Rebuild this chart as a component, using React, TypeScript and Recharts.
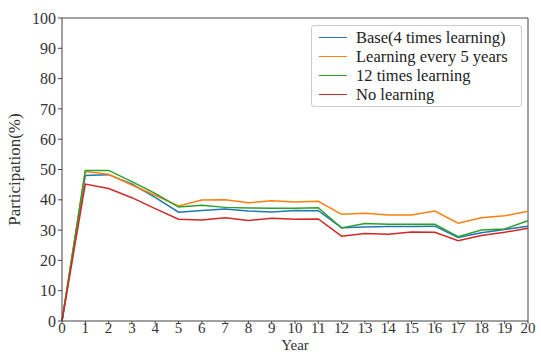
import React from "react";
import {
  Line,
  LineChart,
  XAxis,
  YAxis,
  ReferenceLine,
} from "recharts";

const years = [0, 1, 2, 3, 4, 5, 6, 7, 8, 9, 10, 11, 12, 13, 14, 15, 16, 17, 18, 19, 20];
const base = [0, 48.0, 48.3, 45.2, 40.8, 35.9, 36.5, 37.0, 36.3, 36.0, 36.5, 36.4, 30.8, 31.0, 31.2, 31.2, 31.3, 27.6, 29.1, 30.2, 31.3];
const every5 = [0, 49.3, 48.4, 44.9, 41.5, 38.0, 39.9, 40.0, 39.0, 39.7, 39.3, 39.5, 35.2, 35.6, 35.0, 35.0, 36.3, 32.3, 34.1, 34.7, 36.2];
const twelve = [0, 49.7, 49.7, 46.0, 42.1, 37.6, 38.2, 37.5, 37.3, 37.2, 37.2, 37.4, 30.7, 32.2, 31.9, 31.9, 31.9, 27.8, 30.0, 30.4, 33.1];
const noLearning = [0, 45.2, 43.7, 40.7, 37.1, 33.6, 33.3, 34.1, 33.2, 33.9, 33.6, 33.7, 28.0, 28.9, 28.6, 29.4, 29.3, 26.5, 28.2, 29.3, 30.6];
const yTicks = [0, 10, 20, 30, 40, 50, 60, 70, 80, 90, 100];

const series = [
  { key: "base", name: "Base(4 times learning)", color: "#1f77b4" },
  { key: "every5", name: "Learning every 5 years", color: "#ff7f0e" },
  { key: "twelve", name: "12 times learning", color: "#2ca02c" },
  { key: "none", name: "No learning", color: "#d62728" },
];

const data = years.map((y, i) => ({
  year: y,
  base: base[i],
  every5: every5[i],
  twelve: twelve[i],
  none: noLearning[i],
}));

const font = "'Liberation Serif', 'DejaVu Serif', serif";
const axisColor = "#444";

function LegendBox() {
  return (
    <div
      style={{
        position: "absolute",
        left: 311,
        top: 25,
        width: 211,
        boxSizing: "border-box",
        border: "1px solid #ccc",
        borderRadius: 3,
        background: "#fff",
        padding: "2px 0 2px 7px",
        fontFamily: font,
        fontSize: 16.5,
        color: "#222",
      }}
    >
      {series.map((s) => (
        <div key={s.key} style={{ display: "flex", alignItems: "center", height: 19 }}>
          <span
            style={{
              display: "inline-block",
              width: 28,
              height: 0,
              borderTop: `1.5px solid ${s.color}`,
              marginRight: 9,
            }}
          />
          <span style={{ whiteSpace: "nowrap" }}>{s.name}</span>
        </div>
      ))}
    </div>
  );
}

export default function App() {
  return (
    <div style={{ position: "absolute", left: 0, top: 0, background: "#fff" }}>
      <LineChart
        width={541}
        height={352}
        data={data}
        margin={{ top: 18, right: 13, left: 0, bottom: 0 }}
      >
        <XAxis
          dataKey="year"
          type="number"
          domain={[0, 20]}
          ticks={years}
          interval={0}
          height={31}
          tickSize={3}
          tickMargin={0}
          stroke={axisColor}
          tick={{ fill: "#333", fontSize: 15, fontFamily: font, dy: -2 }}
          label={{
            value: "Year",
            position: "insideBottom",
            offset: 2,
            fill: "#333",
            fontSize: 15,
            fontFamily: font,
          }}
        />
        <YAxis
          type="number"
          domain={[0, 100]}
          ticks={yTicks}
          interval={0}
          width={62}
          tickSize={4}
          stroke={axisColor}
          tick={{ fill: "#333", fontSize: 16, fontFamily: font }}
          label={{
            value: "Participation(%)",
            angle: -90,
            position: "insideLeft",
            offset: 14,
            style: { textAnchor: "middle" },
            fill: "#333",
            fontSize: 17,
            fontFamily: font,
          }}
        />
        <ReferenceLine y={100} stroke={axisColor} />
        <ReferenceLine x={20} stroke={axisColor} />
        {series.map((s) => (
          <Line
            key={s.key}
            dataKey={s.key}
            name={s.name}
            stroke={s.color}
            strokeWidth={1.5}
            dot={false}
            type="linear"
            isAnimationActive={false}
          />
        ))}
      </LineChart>
      <LegendBox />
    </div>
  );
}
